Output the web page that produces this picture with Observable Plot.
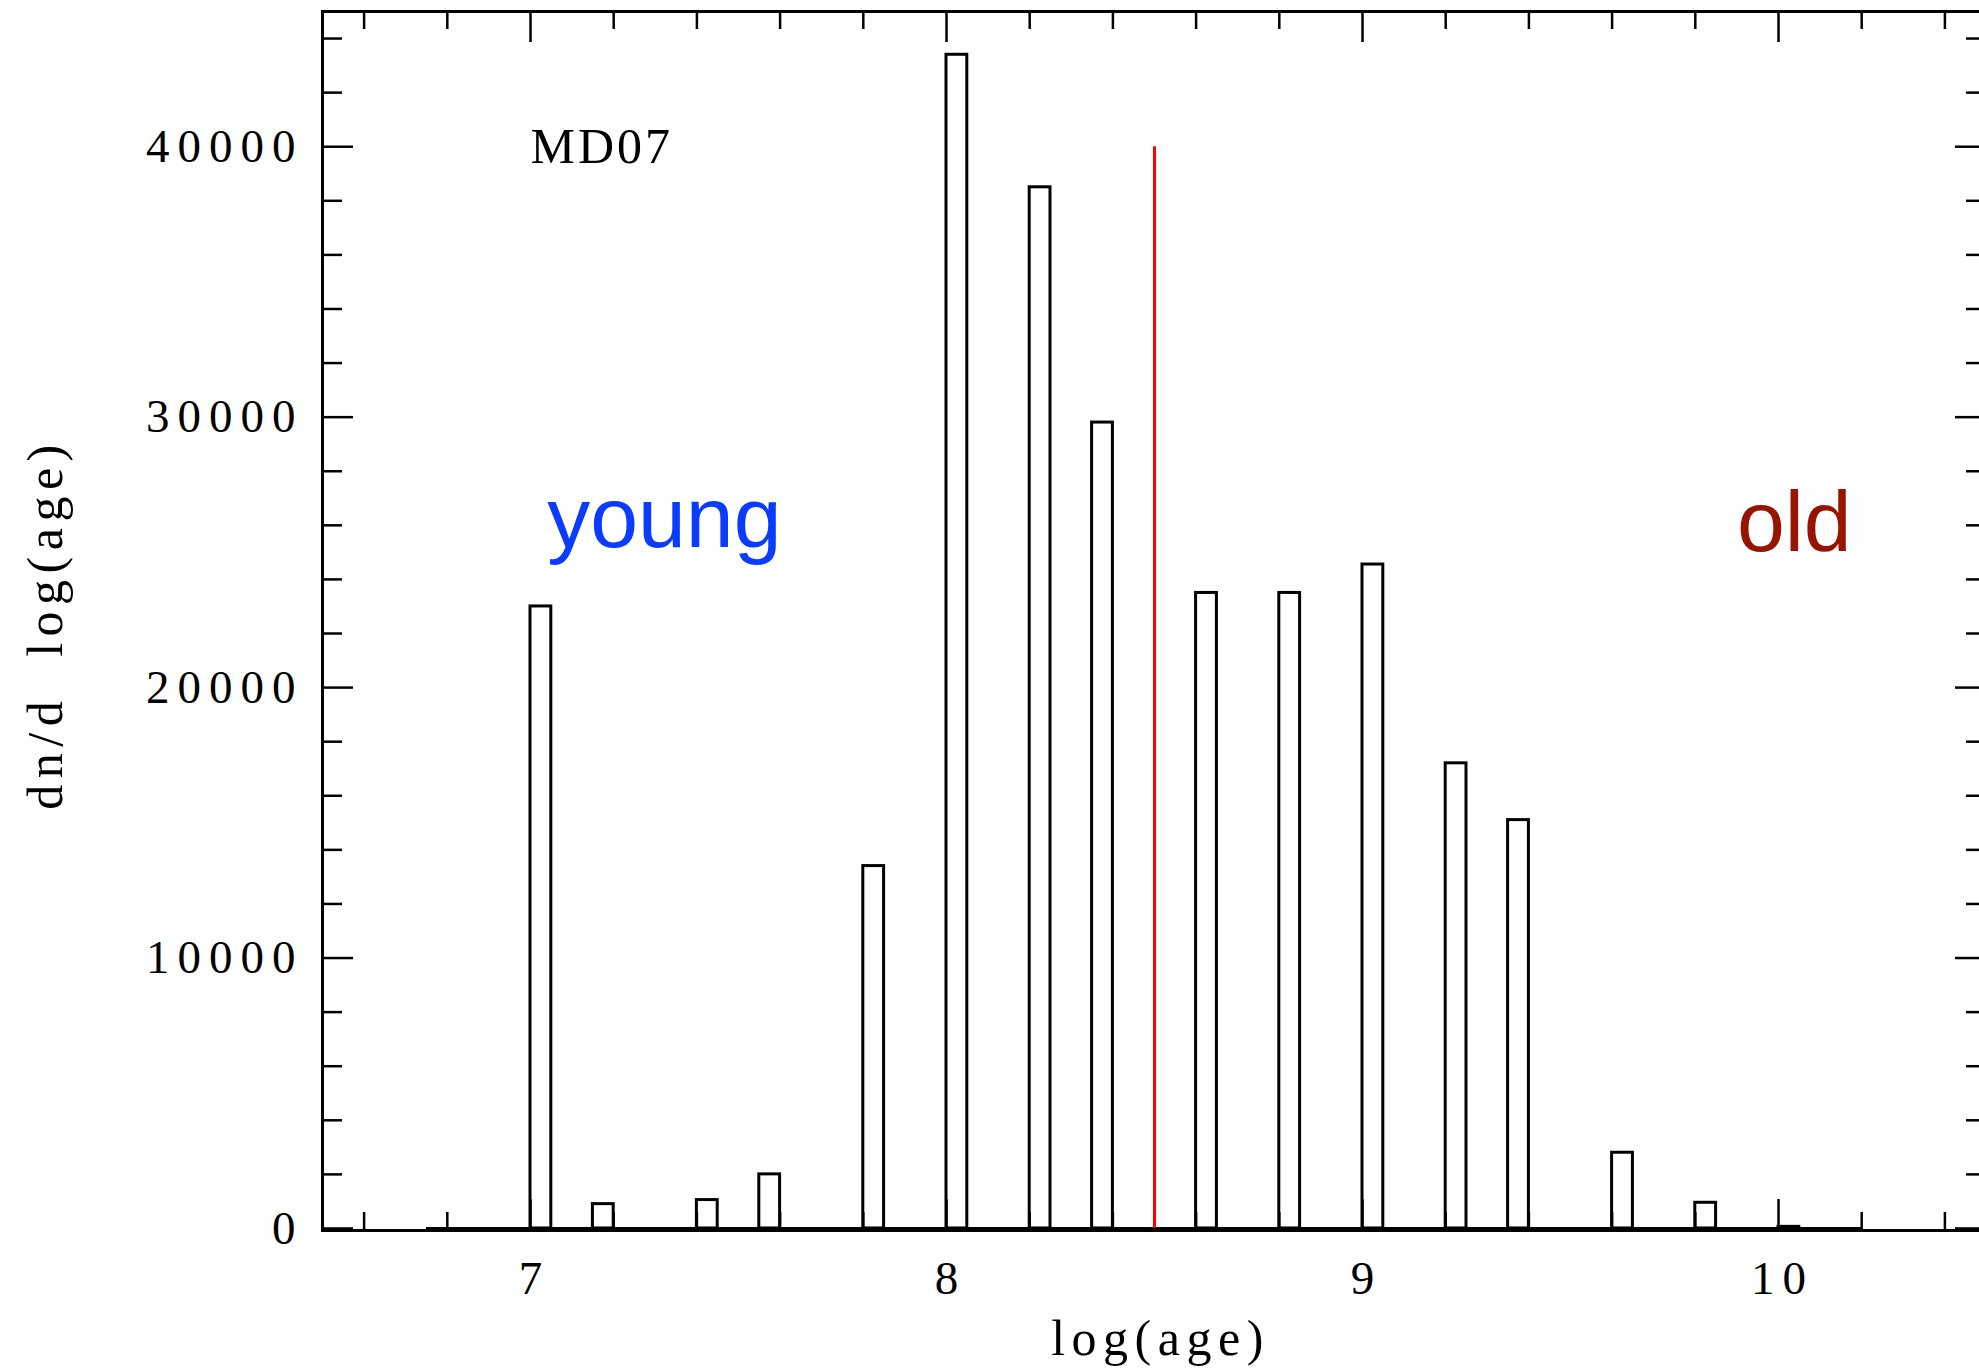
<!DOCTYPE html>
<html><head><meta charset="utf-8">
<script src="https://cdn.jsdelivr.net/npm/d3@7"></script>
<script src="https://cdn.jsdelivr.net/npm/@observablehq/plot@0.6"></script>
<style>
html,body{margin:0;padding:0;background:#fff;overflow:hidden}
</style></head><body><div id="chart"></div>
<script>
// ---- data ----
const binStart = [7.0, 7.15, 7.4, 7.55, 7.8, 8.0, 8.2, 8.35, 8.6, 8.8, 9.0, 9.2, 9.35, 9.6, 9.8, 10.0];
const binCount = [23000, 900, 1050, 2000, 13400, 43400, 38500, 29800, 23500, 23500, 24550, 17200, 15100, 2800, 950, 60];
const binWidth = 0.05;
const histRange = [6.75, 10.2];
const splitAge = [8.5];
const splitTop = [40000];
const xMajorTicks = [7, 8, 9, 10];
const xMinorTicks = [6.6, 6.8, 7.2, 7.4, 7.6, 7.8, 8.2, 8.4, 8.6, 8.8, 9.2, 9.4, 9.6, 9.8, 10.2, 10.4];
const yMajorTicks = [0, 10000, 20000, 30000, 40000];
const yMinorTicks = [2000, 4000, 6000, 8000, 12000, 14000, 16000, 18000, 22000, 24000, 26000, 28000, 32000, 34000, 36000, 38000, 42000, 44000];
const sampleName = ["MD07"];
const sampleX = [7.0];
const sampleY = [40000];
const regionNames = ["young", "old"];
const regionX = [7.04, 9.9];
const regionY = [25200, 25050];
const regionColors = ["#0a3cff", "#961400"];
const xTitle = ["log(age)"];
const yTitle = ["dn/d  log(age)"];

// ---- layout ----
const W = 1979, H = 1370;
const mL = 322, mR = -7, mT = 11, mB = 140;
const innerH = H - mT - mB;
const innerW = W - mL - mR;
const serif = "'Liberation Serif', 'Times New Roman', serif";
const sans = "'Liberation Sans', Arial, Helvetica, sans-serif";

const bars = binStart.map((x, i) => ({x1: x, x2: x + binWidth, y: binCount[i]}));

const chart = Plot.plot({
  width: W, height: H,
  marginLeft: mL, marginRight: mR, marginTop: mT, marginBottom: mB,
  style: {background: "white", fontFamily: serif, color: "black", overflow: "hidden"},
  x: {domain: [6.5, 10.5]},
  y: {domain: [-75, 45000]},
  marks: [
    Plot.ruleY([0], {x1: histRange[0], x2: histRange[1], stroke: "black", strokeWidth: 3}),
    Plot.rectY(bars, {x1: "x1", x2: "x2", y1: 0, y2: "y", fill: "white", stroke: "black", strokeWidth: 3}),
    Plot.ruleX(splitAge, {x: d => d, y1: 0, y2: splitTop[0], stroke: "#ff0000", strokeWidth: 3}),
    // inward ticks: bottom / top
    Plot.tickX(xMinorTicks, {x: d => d, insetTop: innerH - 18, stroke: "black", strokeWidth: 2.5}),
    Plot.tickX(xMajorTicks, {x: d => d, insetTop: innerH - 31, stroke: "black", strokeWidth: 2.5}),
    Plot.tickX(xMinorTicks, {x: d => d, insetBottom: innerH - 18, stroke: "black", strokeWidth: 2.5}),
    Plot.tickX(xMajorTicks, {x: d => d, insetBottom: innerH - 31, stroke: "black", strokeWidth: 2.5}),
    // inward ticks: left / right
    Plot.tickY(yMinorTicks, {y: d => d, insetRight: innerW - 20, stroke: "black", strokeWidth: 2.5}),
    Plot.tickY(yMajorTicks, {y: d => d, insetRight: innerW - 31, stroke: "black", strokeWidth: 2.5}),
    Plot.tickY(yMinorTicks, {y: d => d, insetLeft: innerW - 20, stroke: "black", strokeWidth: 2.5}),
    Plot.tickY(yMajorTicks, {y: d => d, insetLeft: innerW - 31, stroke: "black", strokeWidth: 2.5}),
    Plot.frame({stroke: "black", strokeWidth: 3}),
    Plot.axisX({ticks: xMajorTicks, tickSize: 0, tickPadding: 30, fontSize: 47, tickFormat: d => String(d), label: null, dx: 4}),
    Plot.axisY({ticks: yMajorTicks, tickSize: 0, tickPadding: 19, fontSize: 47, tickFormat: d => String(d), label: null}),
    Plot.text(xTitle, {text: d => d, frameAnchor: "bottom", textAnchor: "middle", lineAnchor: "bottom", dy: 124, dx: 6, fontSize: 50}),
    Plot.text(yTitle, {text: d => d, frameAnchor: "left", textAnchor: "middle", lineAnchor: "middle", rotate: -90, dx: -277, dy: 3, fontSize: 50}),
    Plot.text(sampleName, {text: d => d, x: (d, i) => sampleX[i], y: (d, i) => sampleY[i], textAnchor: "start", lineAnchor: "middle", fontSize: 50}),
    Plot.text([regionNames[0]], {text: d => d, x: regionX[0], y: regionY[0], textAnchor: "start", lineAnchor: "bottom", fontSize: 86, fontFamily: sans, fill: regionColors[0]}),
    Plot.text([regionNames[1]], {text: d => d, x: regionX[1], y: regionY[1], textAnchor: "start", lineAnchor: "bottom", fontSize: 86, fontFamily: sans, fill: regionColors[1]})
  ]
});

document.getElementById("chart").appendChild(chart);

d3.select(chart).selectAll("text").each(function() {
  const t = this.textContent;
  const s = d3.select(this);
  s.style("white-space", "pre");
  if (t === "MD07") s.style("letter-spacing", "3px");
  else if (t === "young" || t === "old") s.style("letter-spacing", "0px");
  else if (t === xTitle[0] || t === yTitle[0]) s.style("letter-spacing", "6.5px");
  else s.style("letter-spacing", "8px");
});
</script>
</body></html>
